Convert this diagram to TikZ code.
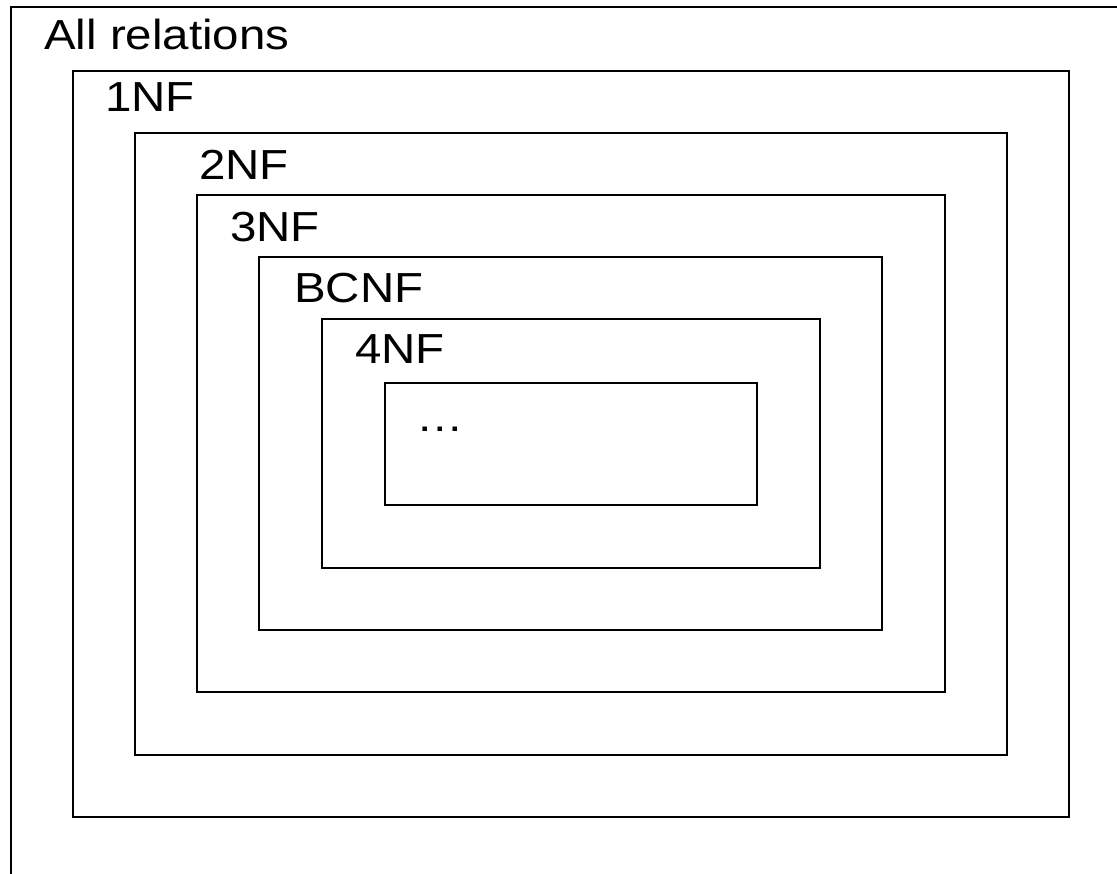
\documentclass[tikz,border=0pt]{standalone}
\usepackage{fontspec}
\setmainfont{Liberation Sans}[FakeStretch=1.13]
\begin{document}
\begin{tikzpicture}[x=1pt,y=-1pt,
  frame/.style={draw=black,line width=1.5pt},
  setlabel/.style={anchor=base west,inner sep=0pt,font=\fontsize{42}{46}\selectfont}]
\useasboundingbox (0,0) rectangle (1117,874);
\fill[white] (0,0) rectangle (1117,874);
% outermost set, running past the page on the right and bottom
\begin{scope}
  \clip (0,0) rectangle (1117,874);
  \draw[frame] (11,7) rectangle (1140,900);
\end{scope}
% nested normal forms
\draw[frame] (73,71)   rectangle (1069,817);
\draw[frame] (135,133) rectangle (1007,755);
\draw[frame] (197,195) rectangle (945,692);
\draw[frame] (259,257) rectangle (882,630);
\draw[frame] (322,319) rectangle (820,568);
\draw[frame] (385,383) rectangle (757,505);
% labels
\node[setlabel] (all)  at (44,50)   {All relations};
\node[setlabel] (nf1)  at (105,112) {1NF};
\node[setlabel] (nf2)  at (199,180) {2NF};
\node[setlabel] (nf3)  at (230,242) {3NF};
\node[setlabel] (bcnf) at (294,303) {BCNF};
\node[setlabel] (nf4)  at (355,364) {4NF};
\node[setlabel] (more) at (416,432) {…};
\end{tikzpicture}
\end{document}
